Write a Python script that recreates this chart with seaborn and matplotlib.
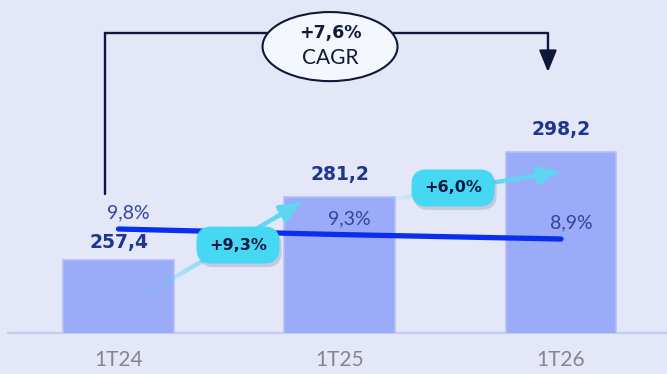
import numpy as np
import matplotlib
matplotlib.use("Agg")
import matplotlib.pyplot as plt
import matplotlib.colors as mcolors
import matplotlib.patheffects as pe
from matplotlib.collections import LineCollection
from matplotlib.patches import Ellipse, FancyBboxPatch
from matplotlib.transforms import ScaledTranslation
import seaborn as sns

# Revenue per quarter with margin and growth rates
quarters = ["1T24", "1T25", "1T26"]
revenue = [257.4, 281.2, 298.2]
margin_pct = [9.8, 9.3, 8.9]
growth_labels = ["+9,3%", "+6,0%"]
cagr_value = "+7,6%"
cagr_text = "CAGR"

BG = "#E4E7F8"
BAR = "#9AABFA"
BAR_EDGE = "#B3BFF8"
BASE = "#C4CCF0"
VALUE_TXT = "#1F3590"
LINE = "#0A2EF0"
PCT_TXT = "#34449E"
ARROW = "#5CD6F1"
BADGE = "#46D7F3"
BADGE_TXT = "#0E1A42"
BRACKET = "#0F1838"
TICK_TXT = "#85858F"
LIGHT_FONT = ["Lato", "DejaVu Sans"]


def fmt(v):
    return f"{v:.1f}".replace(".", ",")


sns.set_theme(style="white")
plt.rcParams["font.family"] = ["DejaVu Sans"]

fig = plt.figure(figsize=(6.67, 3.74), dpi=100, facecolor=BG)
pos = [0.0, 0.1096, 1.0, 0.8904]
ax = fig.add_axes(pos)
ax.set_facecolor(BG)

# Bars
sns.barplot(x=quarters, y=revenue, color=BAR, saturation=1, width=0.5,
            edgecolor=BAR_EDGE, linewidth=1.2, ax=ax, zorder=2)
ax.set_xlim(-0.5356, 2.479)
ax.set_ylim(230, 355.8)
ax.axhline(230, xmin=0.012, xmax=1, color=BASE, lw=1.6, clip_on=False, zorder=1)
ax.set_xlabel("")
ax.set_ylabel("")
ax.set_yticks([])
ax.set_xticks(range(len(quarters)))
ax.set_xticklabels(quarters, fontsize=15, color=TICK_TXT,
                   family=LIGHT_FONT, fontweight="normal")
ax.tick_params(axis="x", length=0, pad=12)
sns.despine(ax=ax, left=True, bottom=True)


def growth_arrow(axis, p0, p1):
    t = np.linspace(0, 1, 60)
    xs = p0[0] + (p1[0] - p0[0]) * t
    ys = p0[1] + (p1[1] - p0[1]) * t
    pts = np.column_stack([xs, ys]).reshape(-1, 1, 2)
    segs = np.concatenate([pts[:-1], pts[1:]], axis=1)
    rgba = np.tile(mcolors.to_rgba(ARROW), (len(segs), 1))
    rgba[:, 3] = np.clip(0.05 + t[:-1] * 1.6, 0.05, 1.0)
    axis.add_collection(LineCollection(segs, colors=rgba, linewidths=3.2,
                                       capstyle="butt", zorder=3))
    back = (p0[0] + (p1[0] - p0[0]) * 0.85, p0[1] + (p1[1] - p0[1]) * 0.85)
    axis.annotate("", xy=p1, xytext=back, zorder=3,
                  arrowprops=dict(arrowstyle="-|>,head_length=0.95,head_width=0.45",
                                  color=ARROW, lw=3.2, shrinkA=0, shrinkB=0))


# Growth arrows between consecutive quarters
growth_arrow(ax, (0.12, 244.4), (0.82, 279.1))
growth_arrow(ax, (1.236, 280.6), (1.986, 290.8))

# Margin line on its own scale
ax2 = ax.twinx()
ax2.set_ylim(0.44, 30.41)
sns.lineplot(x=np.arange(len(margin_pct)), y=margin_pct, ax=ax2, color=LINE,
             linewidth=3.8, solid_capstyle="round", zorder=4)
ax2.axis("off")
for i, v in enumerate(margin_pct):
    ax2.annotate(fmt(v) + "%", (i, v), xytext=(10, 16), textcoords="offset pixels",
                 ha="center", va="center", fontsize=14, color=PCT_TXT,
                 family=LIGHT_FONT, fontweight="normal")

# Overlay for labels, badges and the CAGR bracket
ax3 = fig.add_axes(pos)
ax3.set_xlim(ax.get_xlim())
ax3.set_ylim(ax.get_ylim())
ax3.axis("off")
ax3.patch.set_visible(False)

label_lift = [18, 23, 23]
for i, v in enumerate(revenue):
    ax3.annotate(fmt(v), (i, v), xytext=(0, label_lift[i]), textcoords="offset pixels",
                 ha="center", va="center", fontsize=13.5, fontweight="bold",
                 color=VALUE_TXT)

# Growth badges
badge_centres = [(0.54, 263.2), (1.512, 284.8)]
for label, (bx, by) in zip(growth_labels, badge_centres):
    tr = fig.dpi_scale_trans + ScaledTranslation(bx, by, ax3.transData)
    w, h = 0.83, 0.37
    box = FancyBboxPatch((-w / 2, -h / 2), w, h,
                         boxstyle="round,pad=0,rounding_size=0.15",
                         fc=BADGE, ec="none", transform=tr, zorder=5)
    box.set_path_effects([pe.SimplePatchShadow(offset=(1.5, -2.5), shadow_rgbFace="#7D86A8",
                                               alpha=0.3), pe.Normal()])
    ax3.add_patch(box)
    ax3.text(bx, by, label, ha="center", va="center", fontsize=11.5,
             fontweight="bold", color=BADGE_TXT, zorder=6)

# CAGR bracket from first to last quarter
xl, xr = 0 - 0.059, 2 - 0.059
y_low, y_top, y_tip = 282.5, 343.3, 328.6
ax3.plot([xl, xl, xr], [y_low, y_top, y_top], color=BRACKET, lw=1.7,
         solid_joinstyle="miter", zorder=4)
ax3.annotate("", xy=(xr, y_tip), xytext=(xr, y_top), zorder=4,
             arrowprops=dict(arrowstyle="-|>,head_length=1.1,head_width=0.45",
                             color=BRACKET, lw=1.7, shrinkA=0, shrinkB=0))
ax3.add_patch(Ellipse((0.956, 338.2), 0.610, 26.1, fc="#F4F7FE", ec=BRACKET,
                      lw=1.5, zorder=5))
ax3.text(0.956, 343.3, cagr_value, ha="center", va="center", fontsize=12.5,
         fontweight="bold", color=BRACKET, zorder=6)
ax3.text(0.956, 333.9, cagr_text, ha="center", va="center", fontsize=15,
         color=BRACKET, family=LIGHT_FONT, zorder=6)

fig.savefig("out.png", dpi=100, facecolor=BG)
